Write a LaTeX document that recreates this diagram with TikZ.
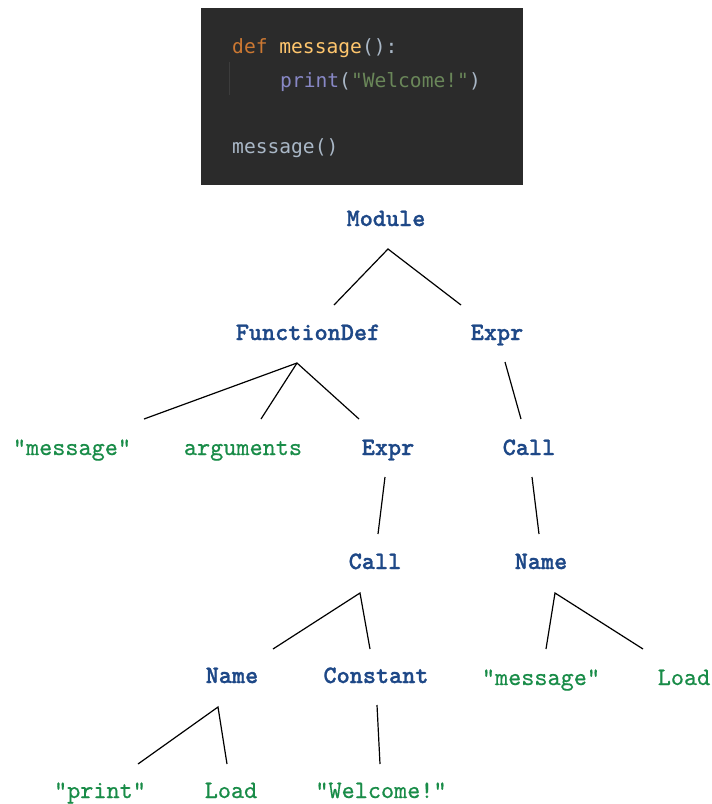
\documentclass[tikz,border=0pt]{standalone}
\usepackage{fontspec}
\newfontfamily\codefont{DejaVu Sans Mono}
\newfontfamily\astfont[FakeBold=1.2]{lmmonolt10-bold.otf}
\newfontfamily\leaffont[FakeBold=0.6]{lmmono10-regular.otf}
\definecolor{codebg}{HTML}{2B2B2B}
\definecolor{kw}{HTML}{CC7832}
\definecolor{fn}{HTML}{FFC66D}
\definecolor{plain}{HTML}{A9B7C6}
\definecolor{builtin}{HTML}{8888C6}
\definecolor{str}{HTML}{6A8759}
\definecolor{guide}{HTML}{3C3C3C}
\definecolor{astblue}{RGB}{30,72,135}
\definecolor{astgreen}{RGB}{25,140,72}
\tikzset{
  ast/.style={anchor=base, inner sep=0pt, font=\astfont\fontsize{25}{27}\selectfont, text=astblue},
  leaf/.style={anchor=base, inner sep=0pt, font=\leaffont\fontsize{25}{27}\selectfont, text=astgreen},
  codeline/.style={anchor=base west, inner sep=0pt, font=\codefont\fontsize{19.6}{22}\selectfont},
  edge/.style={draw=black, line width=1.2pt}
}
\begin{document}
\begin{tikzpicture}[x=1pt,y=-1pt]
\useasboundingbox (0,0) rectangle (712,804);
% code block
\fill[codebg] (201,8) rectangle (523,185);
\draw[guide, line width=1pt] (229,62) -- (229,95);
\node[codeline] (c1) at (232,53) {\textcolor{kw}{def} \textcolor{fn}{message}\textcolor{plain}{():}};
\node[codeline] (c2) at (280,87) {\textcolor{builtin}{print}\textcolor{plain}{(}\textcolor{str}{"Welcome!"}\textcolor{plain}{)}};
\node[codeline] (c3) at (232,153) {\textcolor{plain}{message()}};
% tree nodes
\node[ast] (mod) at (386,226) {Module};
\node[ast] (fd) at (308,340) {FunctionDef};
\node[ast] (ex1) at (497,340) {Expr};
\node[leaf] (msg1) at (72,455) {"message"};
\node[leaf] (args) at (243,455) {arguments};
\node[ast] (ex2) at (388,455) {Expr};
\node[ast] (call1) at (529,455) {Call};
\node[ast] (call2) at (375,569) {Call};
\node[ast] (name1) at (541,569) {Name};
\node[ast] (name2) at (232,683) {Name};
\node[ast] (const) at (376,683) {Constant};
\node[leaf] (msg2) at (541,685) {"message"};
\node[leaf] (load1) at (684,685) {Load};
\node[leaf] (prt) at (100,798) {"print"};
\node[leaf] (load2) at (231,798) {Load};
\node[leaf] (wel) at (381,798) {"Welcome!"};
% connector ends
\coordinate (modB) at (388,249);
\coordinate (fdT) at (334,305);
\coordinate (ex1T) at (461,305);
\coordinate (fdB) at (297,363);
\coordinate (msg1T) at (144,419);
\coordinate (argsT) at (261,419);
\coordinate (ex2T) at (359,419);
\coordinate (ex1B) at (505,362);
\coordinate (call1T) at (521,419);
\coordinate (ex2B) at (385,477);
\coordinate (call2T) at (378,534);
\coordinate (call1B) at (532,477);
\coordinate (name1T) at (539,534);
\coordinate (call2B) at (360,593);
\coordinate (name2T) at (273,649);
\coordinate (constT) at (370,649);
\coordinate (name1B) at (555,593);
\coordinate (msg2T) at (546,649);
\coordinate (load1T) at (643,649);
\coordinate (name2B) at (218,707);
\coordinate (prtT) at (138,764);
\coordinate (load2T) at (227,764);
\coordinate (constB) at (377,705);
\coordinate (welT) at (380,764);
% connectors
\path[edge] (fdT) -- (modB) -- (ex1T);
\path[edge] (msg1T) -- (fdB) -- (ex2T);
\path[edge] (fdB) -- (argsT);
\path[edge] (ex1B) -- (call1T);
\path[edge] (ex2B) -- (call2T);
\path[edge] (call1B) -- (name1T);
\path[edge] (name2T) -- (call2B) -- (constT);
\path[edge] (msg2T) -- (name1B) -- (load1T);
\path[edge] (prtT) -- (name2B) -- (load2T);
\path[edge] (constB) -- (welT);
\end{tikzpicture}
\end{document}
